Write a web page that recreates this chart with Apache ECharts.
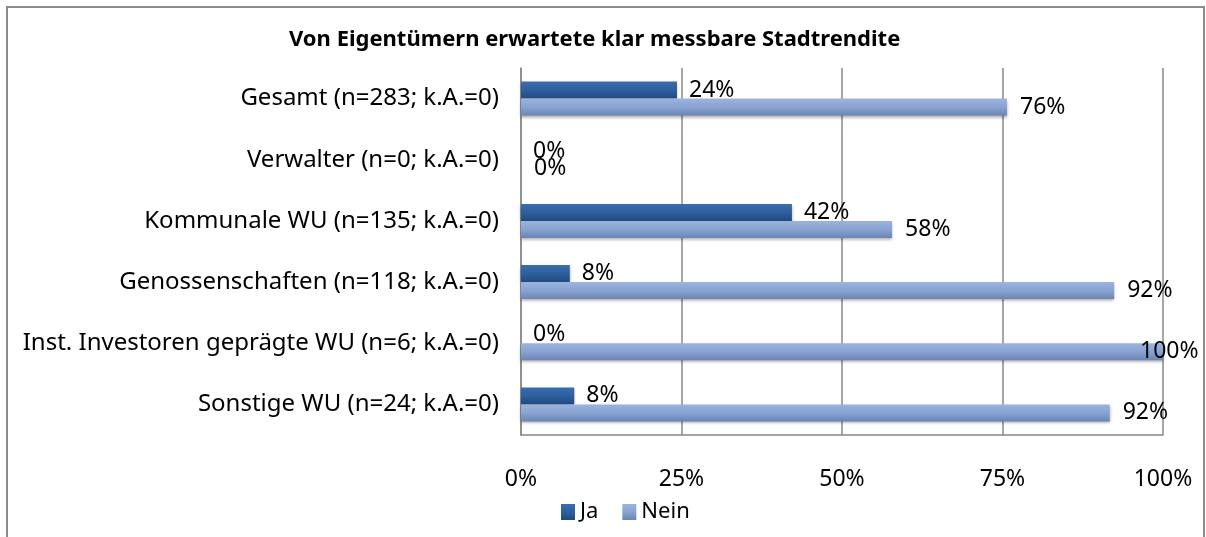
<!DOCTYPE html>
<html>
<head>
<meta charset="utf-8">
<script src="https://cdn.jsdelivr.net/npm/echarts@6/dist/echarts.min.js"></script>
<style>
  html, body { margin: 0; padding: 0; background: #fff; }
  #container { width: 1206px; height: 537px; }
</style>
</head>
<body>
<div id="container"></div>
<script>
var categories = [
  'Gesamt (n=283; k.A.=0)',
  'Verwalter (n=0; k.A.=0)',
  'Kommunale WU (n=135; k.A.=0)',
  'Genossenschaften (n=118; k.A.=0)',
  'Inst. Investoren geprägte WU (n=6; k.A.=0)',
  'Sonstige WU (n=24; k.A.=0)'
];
var jaValues = [24.3, 0, 42.2, 7.6, 0, 8.3];
var neinValues = [75.7, 0, 57.8, 92.4, 100, 91.7];
var tickLabels = ['0%', '25%', '50%', '75%', '100%'];

var dom = document.getElementById('container');
var myChart = echarts.init(dom, null, { renderer: 'canvas' });

var font = 'Noto Sans';
var option;

function pct(p) {
  return Math.round(p.value) + '%';
}

// labels of full-width bars are pulled back inside the chart
function withLabels(values) {
  return values.map(function (v) {
    if (v >= 100) {
      return { value: v, label: { offset: [-36, 0] } };
    }
    return v;
  });
}

option = {
  backgroundColor: '#fff',
  animation: false,
  textStyle: { fontFamily: font },
  title: {
    text: 'Von Eigentümern erwartete klar messbare Stadtrendite',
    left: 284,
    top: 24,
    textStyle: { fontFamily: font, fontSize: 22, fontWeight: 'bold', color: '#000' }
  },
  graphic: [
    {
      type: 'rect',
      shape: { x: 7, y: 7, width: 1197, height: 540 },
      style: { fill: 'none', stroke: '#8c8c8c', lineWidth: 2 },
      silent: true
    }
  ],
  legend: {
    data: ['Ja', 'Nein'],
    left: 556,
    top: 496,
    itemWidth: 14,
    itemHeight: 16,
    itemGap: 24,
    icon: 'rect',
    textStyle: { fontFamily: font, fontSize: 22, color: '#000' }
  },
  grid: {
    left: 521,
    right: 43,
    top: 68,
    bottom: 102,
    containLabel: false
  },
  xAxis: {
    type: 'value',
    min: 0,
    max: 100,
    interval: 25,
    axisLine: { show: true, lineStyle: { color: '#888', width: 1.5 } },
    axisTick: { show: false },
    splitLine: { show: true, lineStyle: { color: '#888', width: 1.5 } },
    axisLabel: {
      margin: 33,
      fontFamily: font,
      fontSize: 23,
      color: '#000',
      formatter: function (v) { return tickLabels[v / 25]; }
    }
  },
  yAxis: {
    type: 'category',
    inverse: true,
    data: categories,
    axisLine: { show: true, lineStyle: { color: '#888', width: 1.5 } },
    axisTick: { show: false },
    axisLabel: { margin: 22, fontFamily: font, fontSize: 24, color: '#000' }
  },
  series: [
    {
      name: 'Ja',
      type: 'bar',
      data: withLabels(jaValues),
      barWidth: 17,
      barGap: '0%',
      itemStyle: {
        color: new echarts.graphic.LinearGradient(0, 0, 0, 1, [
          { offset: 0, color: '#3a6db0' },
          { offset: 0.5, color: '#2e5f9e' },
          { offset: 1, color: '#214a80' }
        ]),
        shadowColor: 'rgba(0,0,0,0.35)',
        shadowBlur: 3,
        shadowOffsetY: 2
      },
      label: {
        show: true,
        position: 'right',
        distance: 12,
        fontFamily: font,
        fontSize: 23,
        color: '#000',
        formatter: pct
      }
    },
    {
      name: 'Nein',
      type: 'bar',
      data: withLabels(neinValues),
      barWidth: 17,
      itemStyle: {
        color: new echarts.graphic.LinearGradient(0, 0, 0, 1, [
          { offset: 0, color: '#9bb3dd' },
          { offset: 0.5, color: '#88a3d2' },
          { offset: 1, color: '#6a84b3' }
        ]),
        shadowColor: 'rgba(0,0,0,0.35)',
        shadowBlur: 3,
        shadowOffsetY: 2
      },
      label: {
        show: true,
        position: 'right',
        distance: 13,
        fontFamily: font,
        fontSize: 23,
        color: '#000',
        formatter: pct
      }
    }
  ]
};

myChart.setOption(option);
window.addEventListener('resize', myChart.resize);
</script>
</body>
</html>
